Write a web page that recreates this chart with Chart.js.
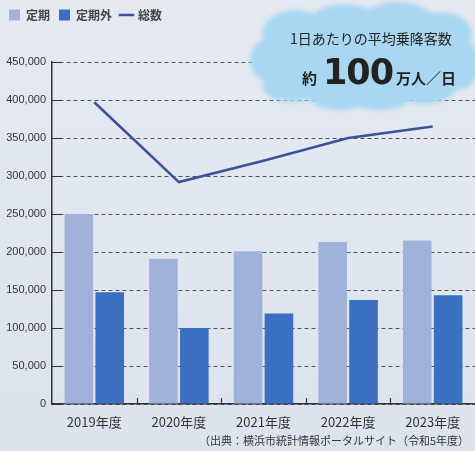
<!DOCTYPE html>
<html lang="ja">
<head>
<meta charset="utf-8">
<title>1日あたりの平均乗降客数</title>
<script src="https://cdn.jsdelivr.net/npm/chart.js@4/dist/chart.umd.min.js"></script>
<style>
  html, body { margin: 0; padding: 0; }
  body {
    width: 475px; height: 451px; overflow: hidden;
    background: linear-gradient(#e4e9f2, #dde3ee);
    font-family: "Noto Sans CJK JP", sans-serif;
    position: relative;
  }
  #wrap { position: absolute; left: 0; top: 0; width: 475px; height: 451px; }
  .cloud-text { position: absolute; color: #222; white-space: nowrap; }
  #sub { left: 290px; top: 28px; font-size: 14px; }
  #big { left: 302px; top: 52px; font-weight: bold; }
  #big .s { font-size: 15px; }
  #big .n { font-family: "DejaVu Sans", sans-serif; font-size: 35px; letter-spacing: -1px; margin: 0 3px 0 6px; }
  #source { position: absolute; right: 6px; top: 432px; font-size: 11px; color: #333; }
</style>
</head>
<body>
<div id="wrap"><canvas id="chart" width="475" height="451"></canvas></div>
<div class="cloud-text" id="sub">1日あたりの平均乗降客数</div>
<div class="cloud-text" id="big"><span class="s">約</span><span class="n">100</span><span class="s">万人／日</span></div>
<div id="source">（出典：横浜市統計情報ポータルサイト（令和5年度）</div>
<script>
// データ
const years = ['2019年度', '2020年度', '2021年度', '2022年度', '2023年度'];
const teiki = [250000, 191000, 201000, 213000, 215000];      // 定期
const teikiGai = [147000, 100000, 119000, 137000, 143000];   // 定期外
const total = [397000, 292000, 320000, 350000, 365000];      // 総数
const yTicks = [0, 50000, 100000, 150000, 200000, 250000, 300000, 350000, 400000, 450000];

// 凡例の高さを固定
const legendHeight = {
  id: 'legendHeight',
  beforeInit(chart) {
    const fit = chart.legend.fit;
    chart.legend.fit = function () {
      fit.call(this);
      this.height = 62;
    };
  }
};

// 雲の吹き出し
const cloud = {
  id: 'cloud',
  beforeDatasetsDraw(chart) {
    const ctx = chart.ctx;
    const blobs = [
      [364, 58, 104, 40],
      [296, 34, 34, 24], [345, 24, 36, 20], [398, 22, 36, 20], [442, 36, 30, 24],
      [268, 60, 18, 20], [462, 62, 16, 22],
      [292, 84, 30, 18], [340, 92, 34, 18], [380, 96, 30, 14], [425, 88, 30, 16], [455, 76, 20, 14]
    ];
    ctx.save();
    ctx.fillStyle = '#a9d7f1';
    ctx.filter = 'blur(2px)';
    blobs.forEach(b => {
      ctx.beginPath();
      ctx.ellipse(b[0], b[1], b[2], b[3], 0, 0, Math.PI * 2);
      ctx.fill();
    });
    ctx.restore();
  }
};

// 軸の内側の目盛り
const innerTicks = {
  id: 'innerTicks',
  afterDraw(chart) {
    const ctx = chart.ctx;
    const x = chart.scales.x;
    const y = chart.scales.y;
    const area = chart.chartArea;
    ctx.save();
    ctx.strokeStyle = '#333';
    ctx.lineWidth = 1.2;
    ctx.beginPath();
    yTicks.forEach(v => {
      const py = Math.round(y.getPixelForValue(v)) + 0.5;
      ctx.moveTo(area.left, py);
      ctx.lineTo(area.left + 10, py);
    });
    for (let i = 0; i < years.length - 1; i++) {
      const px = Math.round((x.getPixelForValue(i) + x.getPixelForValue(i + 1)) / 2) + 0.5;
      ctx.moveTo(px, area.bottom);
      ctx.lineTo(px, area.bottom - 6);
    }
    ctx.stroke();
    ctx.restore();
  }
};

new Chart(document.getElementById('chart'), {
  type: 'bar',
  data: {
    labels: years,
    datasets: [
      {
        label: '定期',
        data: teiki,
        backgroundColor: '#a0b2da',
        pointStyle: 'rect',
        categoryPercentage: 0.73,
        barPercentage: 0.925
      },
      {
        label: '定期外',
        data: teikiGai,
        backgroundColor: '#3b6fc1',
        pointStyle: 'rect',
        categoryPercentage: 0.73,
        barPercentage: 0.925
      },
      {
        type: 'line',
        label: '総数',
        data: total,
        borderColor: '#3d5197',
        backgroundColor: '#3d5197',
        borderWidth: 2.5,
        pointRadius: 0,
        pointStyle: 'line',
        tension: 0
      }
    ]
  },
  options: {
    responsive: false,
    animation: false,
    layout: { padding: { left: 0, right: 0, top: 0, bottom: 2 } },
    plugins: {
      legend: {
        position: 'top',
        align: 'start',
        labels: {
          usePointStyle: true,
          boxWidth: 11,
          boxHeight: 11,
          padding: 9,
          color: '#444',
          font: { family: '"Noto Sans CJK JP"', size: 12, weight: 'bold' }
        }
      },
      tooltip: { enabled: false }
    },
    scales: {
      x: {
        grid: { display: false, drawTicks: false },
        border: { color: '#333', width: 1.5 },
        afterFit(scale) { scale.height = 45; },
        ticks: {
          color: '#333',
          padding: 10,
          font: { family: '"Noto Sans CJK JP"', size: 13 }
        }
      },
      y: {
        min: 0,
        max: 450000,
        afterFit(scale) { scale.width = 52; },
        afterBuildTicks(scale) { scale.ticks = yTicks.map(v => ({ value: v })); },
        grid: { color: '#555', lineWidth: 1, drawTicks: false },
        border: { color: '#333', width: 1.5, dash: [4, 3] },
        ticks: {
          color: '#333',
          padding: 6,
          font: { family: '"Liberation Sans"', size: 11 },
          callback: v => v.toLocaleString('en-US')
        }
      }
    }
  },
  plugins: [legendHeight, cloud, innerTicks]
});
</script>
</body>
</html>
